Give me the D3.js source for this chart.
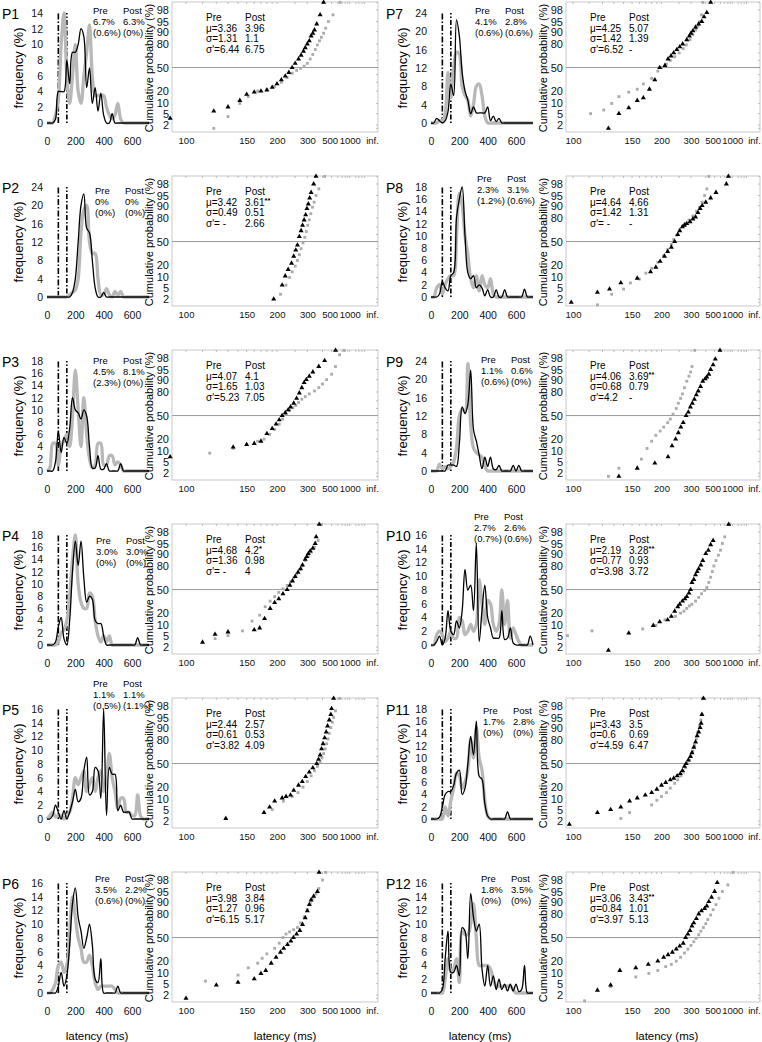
<!DOCTYPE html>
<html>
<head>
<meta charset="utf-8">
<script src="https://cdn.jsdelivr.net/npm/d3@7"></script>
<style>
body { margin: 0; background: #fff; }
svg { font-family: "Liberation Sans", Arial, sans-serif; }
</style>
</head>
<body>
<svg id="fig" width="762" height="1042"></svg>
<script>
// ---- data ----
var panelNames = ["P1", "P2", "P3", "P4", "P5", "P6", "P7", "P8", "P9", "P10", "P11", "P12"];
var freqMax = [14, 24, 18, 18, 16, 16, 24, 18, 24, 16, 18, 16];
var binStart = d3.range(0, 740, 20); // 0 .. 720 ms
var freqTicksX = [0, 200, 400, 600];
var windowLines = [80, 140];
var probTicks = [2, 5, 10, 20, 50, 80, 90, 95, 98];
var probMinor = [1.5, 30, 40, 60, 70, 99];
var latTicks = [100, 150, 200, 300, 500, 1000, Infinity];
var latTickLabels = ["100", "150", "200", "300", "500", "1000", "inf."];
var latMinor = [110, 120, 130, 140, 160, 170, 180, 190, 250, 400, 600, 700, 800, 900, 1500, 2000, 3000, 5000];

var fastPre = ["6.7%", "0%", "4.5%", "3.0%", "1.1%", "3.5%", "4.1%", "2.3%", "1.1%", "2.7%", "1.7%", "1.8%"];
var fastPost = ["6.3%", "0%", "8.1%", "3.0%", "1.1%", "2.2%", "2.8%", "3.1%", "0.6%", "2.6%", "2.8%", "3.5%"];
var antPre = ["(0.6%)", "(0%)", "(2.3%)", "(0%)", "(0.5%)", "(0.6%)", "(0.6%)", "(1.2%)", "(0.6%)", "(0.7%)", "(0%)", "(0%)"];
var antPost = ["(0%)", "(0%)", "(0%)", "(0%)", "(1.1%)", "(0%)", "(0.6%)", "(0.6%)", "(0%)", "(0.6%)", "(0%)", "(0%)"];

var muPre = ["3.36", "3.42", "4.07", "4.68", "2.44", "3.98", "4.25", "4.64", "4.06", "2.19", "3.43", "3.06"];
var muPost = ["3.96", "3.61", "4.1", "4.2", "2.57", "3.84", "5.07", "4.66", "3.69", "3.28", "3.5", "3.43"];
var starsPost = ["", "**", "", "*", "", "", "", "", "**", "**", "", "**"];
var sdPre = ["1.31", "0.49", "1.65", "1.36", "0.61", "1.27", "1.42", "1.42", "0.68", "0.77", "0.6", "0.84"];
var sdPost = ["1.1", "0.51", "1.03", "0.98", "0.53", "0.96", "1.39", "1.31", "0.79", "0.93", "0.69", "1.01"];
var sdEPre = ["6.44", " -", "5.23", " -", "3.82", "6.15", "6.52", " -", "4.2", "3.98", "4.59", "3.97"];
var sdEPost = ["6.75", "2.66", "7.05", "4", "4.09", "5.17", "-", "-", "-", "3.72", "6.47", "5.13"];

// frequency (%) per 20 ms bin, grey = pre, black = post
var freqPre = [
  [0,0,0,1,3,10,14,6,2.5,6, 10,4,2.5,6,9,12.5,6,3.5,3.5,3.5, 3.5,2,1,0.5,1,2.5,0.5,0,0,0, 0,0,0,0,0,0,0],
  [0,0,0,0,0,0,0,0,0.5,1, 1.5,4,14,19,20,12,9.5,9.5,4,0.5, 0.5,1.8,0.5,0,1.2,0.3,1.2,0,0,0, 0,0,0,0,0,0,0],
  [0,0.5,4.5,4.5,1,4,5,6,4,9, 16.5,10,4,12,6,2,0.5,1,4.5,4.5, 1,1,2.5,2.5,1,1.5,1,0,0,0, 0,0,0,0,0,0,0],
  [0,0,0,0,0.5,2,2.5,4,8,14, 18,10,7,6,6,8.5,8,4,1.5,0.5, 1.5,0.5,1.5,0,0,0,0,0,0,0, 0,0,0,0,0,0,0],
  [0,0.5,1,0.3,0.5,0.5,0,0.5,1,3, 6,5,6,7,4,5,6,4,6,7, 4,6,9.5,6,4,1.5,3,3,1,1, 0.5,0.5,3.5,0.5,0,0,0],
  [0,0,0.5,1.5,4,4.5,3,4,9,14, 11,8,6.5,4.5,4.5,5.5,4,1.5,0.5,1, 1,1,1,1,0.5,0,0,0,0,0, 0,0,0,0,0,0,0],
  [0,0,0,0.5,0.5,2,11,5.5,12,15.5, 15,8,6,5,1.5,4,8,8.5,6,1.5, 0,0,0,0,0,0,0,0,0,0, 0,0,0,0,0,0,0],
  [0,0,1.5,2,0.5,2,3,3.5,3.5,10, 17,15,10,7,3,1.5,3.5,1,3.5,2, 1.5,3,0.5,0,0,0,0,0,0,0, 0,0,0,0,0,0,0],
  [0,0,0,1.5,0.5,1,0.5,1,2,5, 12,13.5,13,23.5,10,5,4,3.5,3,1, 0,0,0,0,0,0,0,0,0,0, 0,0,0,0,0,0,0],
  [0,0,1.5,2,1.5,0.5,1,2,1,1, 4,3.5,1.5,2,3,2,3,9.5,6,3, 6.5,6,3,2,3,8,3,6.5,1,2.5, 1.5,0.5,0,0,0,0,0],
  [0,0,0,0,0,2,0.5,3,5,7.5, 7,5,6,8,13,10,15,10,8,3, 0.5,0,0,0,0,0,0,0,0,0, 0,0,0,0,0,0,0],
  [0,0,0,0,0,2,5,3,3.5,5, 1.5,9,8.5,8.5,10,13,8,4,4,4, 4,3.5,2,1,1,1,1,1,1,0.5, 0,0,0,0,0,0,0]
];
var freqPost = [
  [0,0,0,0.5,4,4,4,8,5,9, 9,10,12,11,4.5,7,2.5,4.5,1.5,3.8, 1,0,0,1.2,0,0,0,0,0,0, 0,0,0,0,0,0,0],
  [0,0,0,0,0,0,0,0,0,1, 4,12,20,22.5,15,14,8,2,0,0, 1,0,0,0,0,0,0,0,0,0, 0,0,0,0,0,0,0],
  [0,0,0,1.5,6.5,3,5.5,4.5,7,12, 10,9.5,8.5,10,9,4,0.5,0.5,2.5,0.3, 0.3,1.2,0,0,0,0,1.2,0,0,0, 0,0,0,0,0,0,0],
  [0,0,0,0.5,3,4.5,1,0,4,12, 17,13,17,11,7,8,7.5,4,3.5,3.5, 1.5,0,0,0,0,0,0,0,0,0, 0,0,1.2,0,0,0,0],
  [0,0,0.5,2,1,0,1.2,0,1,2.5, 4.3,2.5,3,7,9,3.5,4,7.5,7,3, 16,0.5,7.5,6.5,6.5,1.2,2,1,1,1, 0,0,0,0,0,0,0],
  [0,0,0,0,1,3,1,2.5,7,13, 15.3,11,9,6.5,8,10,7,2,1.5,5, 0,0,0,0,0,1,0,0,0,0, 0,0,0,0,0,0,0],
  [0,0,1,0.5,0,0.5,2.5,8.5,6,22.5, 19,11,7,5,2,3.5,2.2,2.2,2.2,2.2, 3.5,0.5,1.5,0.3,1,0,0,0,0,0, 0,0,0,0,0,0,0],
  [0,0,0,0.5,2.5,1.5,1,3.5,4,13, 16,18,10,4,3,3.5,1.5,2,1.5,0.2, 1.2,0,0,1.2,0,0,1.2,0,0,0, 0,0,0,1.3,0,0,0],
  [0,0,0,0,0,0,1.3,1.3,1.3,1, 6,14,12.5,14.5,22,9,6.5,3.5,0.5,3, 1,3,0.5,0.3,1.2,0,0,0,0,1.2, 0,1.2,0,0,0,0,0],
  [0,0,0.5,1.3,0,1,5,2,1.5,3.5, 2.5,5,11,8,8.7,5,14.8,0.5,5,8.7, 4,2.5,1,1,1,5,0.8,1,2.5,0.3, 0,0,0,0,0,1.3,0],
  [0,0,0,0.3,2,4,4.5,4.5,5.5,7.5, 8,4,5,9,13.5,10.5,16,7,6.5,2.5, 0.5,0,0,0,0,0,0,1.2,0,0, 0,0,0,0,0,0,0],
  [0,0,0,0,0.5,5,9,3,3,4, 2.5,9.5,9,5,14.5,11,9,10,3.5,1, 4,1,2.5,0.5,2,0.5,1.3,0.3,1.3,0.3, 1.3,0.2,0.5,4,0,0,0]
];

// cumulative points [latency ms, cumulative %]
var cumPre = [
  [[118,1.5],[130,4],[142,10],[152,15],[165,20],[180,22],[195,25],[210,30],[225,36],[240,42],[255,46],[270,49],[285,52],[300,56],[315,62],[330,68],[345,74],[360,79],[375,83],[390,86],[410,89],[430,92],[460,95],[520,97],[650,99]],
  [[208,3],[222,6],[232,10],[240,14],[250,19],[258,25],[265,32],[272,40],[280,48],[288,56],[295,64],[302,72],[310,78],[318,84],[328,89],[338,92],[350,95],[370,97],[420,99]],
  [[115,9],[135,12],[150,15],[165,18],[175,20],[185,25],[195,31],[205,38],[213,45],[222,52],[232,57],[242,61],[252,64],[262,68],[275,72],[290,75],[310,78],[340,81],[370,84],[400,87],[440,90],[500,93],[560,96],[640,98.5],[760,99]],
  [[119,4],[130,5],[145,7],[157,13],[168,18],[177,27],[186,34],[195,40],[204,46],[214,51],[225,56],[235,61],[245,66],[255,71],[265,76],[275,80],[290,85],[305,88],[320,91],[340,93.5],[365,96],[390,99]],
  [[128,2.5],[190,5],[215,9],[240,12],[260,15],[280,20],[300,26],[320,33],[340,40],[360,46],[380,52],[395,58],[410,64],[425,70],[440,76],[455,81],[470,86],[490,90],[510,93],[530,95],[560,97],[640,99]],
  [[112,6],[140,9],[152,14],[165,18],[172,23],[180,28],[195,35],[205,42],[214,50],[222,55],[232,58],[245,61],[258,64],[270,70],[285,77],[300,84],[315,89],[330,92],[350,94],[370,96],[400,98],[430,99]],
  [[111,5],[121,6.5],[128,10],[135,15],[146,19],[157,22],[166,28],[180,35],[192,45],[200,50],[212,55],[222,60],[235,65],[250,70],[265,75],[278,79],[295,84],[310,88],[325,91],[340,93],[355,95],[365,97],[375,99]],
  [[116,1.2],[128,3],[140,4.5],[148,7],[160,9],[170,13],[180,17],[192,23],[205,31],[215,39],[225,46],[232,53],[242,59],[252,66],[262,71],[272,74],[290,78],[310,82],[330,86],[350,89],[370,92],[390,95],[410,97],[430,99]],
  [[125,1.5],[135,3],[163,6],[172,12],[180,18],[188,24],[197,29],[205,34],[215,40],[222,45],[230,52],[240,60],[247,67],[255,73],[262,78],[270,84],[280,89],[290,92],[298,94],[305,96],[320,99]],
  [[97,5],[112,7],[165,8],[188,10],[208,14],[237,17],[255,20],[268,22],[280,25],[292,28],[305,30],[325,34],[345,39],[365,44],[390,49],[410,53],[430,60],[450,67],[470,74],[490,80],[520,85],[560,89],[600,92],[640,95],[700,97],[850,99]],
  [[137,2.5],[147,4],[180,7],[190,9.5],[200,12],[212,15],[222,19],[235,24],[245,28],[256,33],[266,38],[275,44],[282,50],[292,55],[300,60],[310,67],[320,74],[330,81],[340,87],[350,91],[360,94],[368,96],[375,99]],
  [[107,1.2],[127,4],[155,8],[175,10],[192,12],[210,15],[225,17],[240,20],[255,24],[270,29],[285,34],[300,39],[315,44],[328,49],[345,54],[360,59],[380,64],[400,69],[420,74],[450,79],[480,84],[520,88],[570,92],[640,95],[800,97],[1050,99]]
];
var cumPost = [
  [[92,3.5],[118,6],[130,8],[142,12],[150,17],[160,19],[170,20],[180,21],[190,24],[200,28],[210,33],[220,38],[230,43],[240,50],[250,56],[262,62],[272,67],[282,72],[290,76],[300,80],[310,83],[320,87],[330,89],[340,91],[355,94],[380,97],[410,99]],
  [[193,2],[212,6],[220,11],[228,16],[238,22],[245,30],[252,38],[258,45],[265,57],[272,65],[278,72],[285,78],[292,83],[298,88],[305,91],[312,94],[320,96],[335,98],[350,99]],
  [[92,7],[135,13],[150,15],[160,16],[170,18],[180,26],[190,32],[198,38],[205,44],[212,50],[220,54],[228,58],[235,62],[245,67],[255,73],[265,79],[275,84],[285,88],[295,90],[310,92],[330,94],[370,96],[420,97.5],[560,99]],
  [[110,3],[119,5.5],[130,6.5],[160,7.5],[168,8.5],[176,15],[186,25],[195,32],[204,37],[214,44],[225,50],[233,56],[241,62],[250,68],[260,73],[270,77],[278,81],[290,86],[297,88],[305,90],[315,91.5],[330,93],[345,95],[351,97],[373,99]],
  [[128,2.5],[175,4],[185,6],[195,9],[212,11],[222,12],[235,13],[245,17],[262,22],[277,26],[292,32],[310,38],[330,44],[355,50],[368,56],[380,62],[392,70],[405,76],[420,82],[435,87],[450,91],[470,94],[490,96],[500,97.5],[530,99]],
  [[100,1.5],[120,4.5],[140,5.5],[160,7],[170,10],[178,12],[188,18],[198,24],[208,30],[216,35],[226,40],[236,45],[244,50],[255,55],[267,60],[278,68],[290,76],[300,83],[310,88],[320,91],[335,93],[360,95],[372,99]],
  [[125,1.5],[135,5],[146,7.5],[157,12],[166,14],[176,22],[186,33],[196,50],[208,53],[216,62],[224,66],[232,70],[242,74],[252,77],[263,80],[280,84],[292,87],[300,89],[310,90.5],[325,92.5],[345,94],[367,95],[385,96.5],[410,97.5],[450,99]],
  [[99,1.5],[116,3.5],[126,4.5],[137,7],[157,9.5],[178,14],[188,18],[197,24],[207,30],[215,36],[225,42],[235,50],[245,60],[252,65],[262,70],[270,72],[280,74],[295,76],[310,79],[325,81],[340,85],[355,88],[370,90],[400,92],[450,94],[520,96],[750,98],[820,99]],
  [[135,1.5],[157,3],[186,4.5],[216,7],[227,14],[238,20],[247,27],[256,34],[265,40],[277,50],[287,55],[297,62],[307,67],[318,72],[330,77],[342,81],[358,85],[375,89],[395,90.5],[410,91.5],[430,93],[450,95],[480,96.5],[510,97.8],[590,99]],
  [[125,1.5],[146,6],[183,10],[196,12.5],[215,14],[225,17],[235,22],[245,27],[252,30],[262,34],[272,37],[280,40],[290,45],[298,50],[305,60],[315,64],[325,70],[335,74],[345,77],[360,81],[375,85],[400,90],[425,92],[450,94.5],[480,96],[830,99]],
  [[98,1.5],[116,4],[127,5],[137,6],[147,9],[157,11],[169,13],[180,15],[190,18],[200,22],[210,25],[222,28],[232,30],[243,33],[254,36],[262,40],[270,46],[277,50],[287,55],[297,60],[305,65],[315,72],[325,78],[335,84],[345,87],[355,90],[362,92.5],[368,96],[380,99]],
  [[116,3],[127,4.5],[136,12],[155,14],[174,17],[192,20],[205,24],[216,27],[228,30],[240,34],[252,38],[265,42],[275,50],[285,55],[295,60],[305,66],[315,70],[330,75],[345,80],[365,83],[390,85],[410,87],[430,90],[460,92.5],[500,95],[540,97.5]]
];

// ---- layout ----
var noteX = [93, 95, 93, 96, 93, 95, 91, 93, 97, 90, 99, 97];
var noteDy = [11.5, 17.5, 13.5, 19.5, -11.5, 9.5, 11.5, 5.5, 12.5, -4.5, 15.5, 9.5];
var cumLeft = [172, 566], cumRight = [378, 760];
var cum100 = [186, 573], cumInf = [368, 750];
var statsX = [206, 590];

// inverse normal CDF (Acklam)
function probit(p) {
  var a = [-3.969683028665376e+01, 2.209460984245205e+02, -2.759285104469687e+02, 1.383577518672690e+02, -3.066479806614716e+01, 2.506628277459239e+00];
  var b = [-5.447609879822406e+01, 1.615858368580409e+02, -1.556989798598866e+02, 6.680131188771972e+01, -1.328068155288572e+01];
  var c = [-7.784894002430293e-03, -3.223964580411365e-01, -2.400758277161838e+00, -2.549732539343734e+00, 4.374664141464968e+00, 2.938163982698783e+00];
  var d = [7.784695709041462e-03, 3.224671290700398e-01, 2.445134137142996e+00, 3.754408661907416e+00];
  var pl = 0.02425, q, r;
  if (p < pl) {
    q = Math.sqrt(-2 * Math.log(p));
    return (((((c[0]*q+c[1])*q+c[2])*q+c[3])*q+c[4])*q+c[5]) / ((((d[0]*q+d[1])*q+d[2])*q+d[3])*q+1);
  }
  if (p > 1 - pl) {
    q = Math.sqrt(-2 * Math.log(1 - p));
    return -(((((c[0]*q+c[1])*q+c[2])*q+c[3])*q+c[4])*q+c[5]) / ((((d[0]*q+d[1])*q+d[2])*q+d[3])*q+1);
  }
  q = p - 0.5; r = q * q;
  return (((((a[0]*r+a[1])*r+a[2])*r+a[3])*r+a[4])*r+a[5])*q / (((((b[0]*r+b[1])*r+b[2])*r+b[3])*r+b[4])*r+1);
}

var svg = d3.select("#fig");
var grey = "#b8b8b8";

function styleAxis(sel, size) {
  sel.select(".domain").remove();
  sel.selectAll("line").remove();
  sel.attr("font-family", null).attr("font-size", size);
  sel.selectAll("text").attr("fill", "#111");
}

panelNames.forEach(function(name, i) {
  var col = i < 6 ? 0 : 1, row = i % 6;
  var ox = col * 384, top = 2 + row * 174;
  var g = svg.append("g");

  g.append("text").attr("x", ox + 2).attr("y", top + 17)
    .attr("font-size", 14).text(name);

  // ---------- frequency plot ----------
  var fx = d3.scaleLinear().domain([0, 720]).range([ox + 47, ox + 149]);
  var fy = d3.scaleLinear().domain([0, freqMax[i]]).range([top + 121, top + 11]);
  var step = freqMax[i] > 20 ? 4 : 2;

  g.append("g").attr("transform", "translate(" + (ox + 43) + ",0)")
    .call(d3.axisLeft(fy).tickValues(d3.range(0, freqMax[i] + 1, step)).tickSize(0).tickPadding(0))
    .call(styleAxis, 10.5);
  g.append("g").attr("transform", "translate(0," + (top + 133) + ")")
    .call(d3.axisBottom(fx).tickValues(freqTicksX).tickSize(0).tickPadding(3))
    .call(styleAxis, 10.5);

  g.append("text")
    .attr("transform", "translate(" + (ox + 23) + "," + (top + 66) + ") rotate(-90)")
    .attr("text-anchor", "middle").attr("font-size", 13).text("frequency (%)");

  windowLines.forEach(function(v, k) {
    g.append("line")
      .attr("x1", fx(v)).attr("x2", fx(v))
      .attr("y1", fy(0)).attr("y2", fy(freqMax[i]))
      .attr("stroke", "#000").attr("stroke-width", 1.6)
      .attr("stroke-dasharray", k === 0 ? "6,2,1.5,2" : "1.5,2,5,2");
  });

  var line = d3.line()
    .x(function(d, j) { return fx(binStart[j]); })
    .y(function(d) { return fy(d); })
    .curve(d3.curveCatmullRom.alpha(0.5));

  g.append("path").datum(freqPre[i]).attr("d", line)
    .attr("fill", "none").attr("stroke", grey).attr("stroke-width", 3.3)
    .attr("stroke-linejoin", "round");
  g.append("path").datum(freqPost[i]).attr("d", line)
    .attr("fill", "none").attr("stroke", "#000").attr("stroke-width", 1.3)
    .attr("stroke-linejoin", "round");

  var nx = ox + noteX[i], ny = top + noteDy[i];
  var notes = [["Pre", "Post"], [fastPre[i], fastPost[i]], [antPre[i], antPost[i]]];
  notes.forEach(function(pair, k) {
    g.append("text").attr("x", nx).attr("y", ny + k * 11).attr("font-size", 9.5).text(pair[0]);
    g.append("text").attr("x", nx + 30).attr("y", ny + k * 11).attr("font-size", 9.5).text(pair[1]);
  });

  // ---------- cumulative (reciprobit) plot ----------
  var L = cumLeft[col], R = cumRight[col];
  var cx = d3.scaleLinear().domain([-1 / 100, 0]).range([cum100[col], cumInf[col]]);
  var cy = d3.scaleLinear().domain([-2.3, 2.34]).range([top + 130, top]);
  var xr = function(t) { return cx(-1 / t); };
  var yp = function(p) { return cy(probit(p / 100)); };

  g.append("rect").attr("x", L).attr("y", top).attr("width", R - L).attr("height", 130)
    .attr("fill", "none").attr("stroke", "#c9c9c9").attr("stroke-width", 1);

  latMinor.concat(latTicks.slice(0, 6)).forEach(function(t) {
    g.append("line").attr("x1", xr(t)).attr("x2", xr(t))
      .attr("y1", top).attr("y2", top + 2).attr("stroke", "#bbb");
  });
  probTicks.concat(probMinor).forEach(function(p) {
    g.append("line").attr("x1", R - 2).attr("x2", R)
      .attr("y1", yp(p)).attr("y2", yp(p)).attr("stroke", "#bbb");
  });

  g.append("line").attr("x1", L).attr("x2", R)
    .attr("y1", yp(50)).attr("y2", yp(50))
    .attr("stroke", "#9a9a9a").attr("stroke-width", 1);

  g.append("g").attr("transform", "translate(" + (L - 3) + ",0)")
    .call(d3.axisLeft(cy).tickValues(probTicks.map(function(p) { return probit(p / 100); }))
      .tickFormat(function(d, j) { return probTicks[j]; }).tickSize(0).tickPadding(0))
    .call(styleAxis, 11);
  var xa = g.append("g").attr("transform", "translate(0," + (top + 132) + ")")
    .call(d3.axisBottom(cx).tickValues(latTicks.map(function(t) { return -1 / t; }))
      .tickFormat(function(d, j) { return latTickLabels[j]; }).tickSize(0).tickPadding(3))
    .call(styleAxis, 9.5);
  xa.selectAll("text").attr("dx", function(d, j) { return j === 6 ? 4 : (j === 4 ? -2 : 0); });

  g.append("text")
    .attr("transform", "translate(" + (L - 19) + "," + (top + 66) + ") rotate(-90)")
    .attr("text-anchor", "middle").attr("font-size", 11).text("Cumulative probability (%)");

  g.selectAll(null).data(cumPre[i]).join("path")
    .attr("d", d3.symbol(d3.symbolSquare, 8))
    .attr("transform", function(d) { return "translate(" + xr(d[0]) + "," + yp(d[1]) + ")"; })
    .attr("fill", "#aaaaaa");
  g.selectAll(null).data(cumPost[i]).join("path")
    .attr("d", d3.symbol(d3.symbolTriangle, 11))
    .attr("transform", function(d) { return "translate(" + xr(d[0]) + "," + yp(d[1]) + ")"; })
    .attr("fill", "#000");

  var sx = statsX[col], sy = top + 19;
  var stats = [
    ["Pre", "Post"],
    ["\u03bc=" + muPre[i], muPost[i]],
    ["\u03c3=" + sdPre[i], sdPost[i]],
    ["\u03c3'=" + sdEPre[i], sdEPost[i]]
  ];
  stats.forEach(function(pair, k) {
    g.append("text").attr("x", sx).attr("y", sy + k * 10.5).attr("font-size", 10).text(pair[0]);
    var t = g.append("text").attr("x", sx + 39).attr("y", sy + k * 10.5).attr("font-size", 10).text(pair[1]);
    if (k === 1 && starsPost[i]) {
      t.append("tspan").attr("dy", -3).attr("font-size", 7.5).attr("font-weight", "bold").text(starsPost[i]);
    }
  });
});

// bottom axis titles
[97, 285, 480, 667].forEach(function(x) {
  svg.append("text").attr("x", x).attr("y", 1040)
    .attr("text-anchor", "middle").attr("font-size", 11.5).text("latency (ms)");
});
</script>
</body>
</html>
